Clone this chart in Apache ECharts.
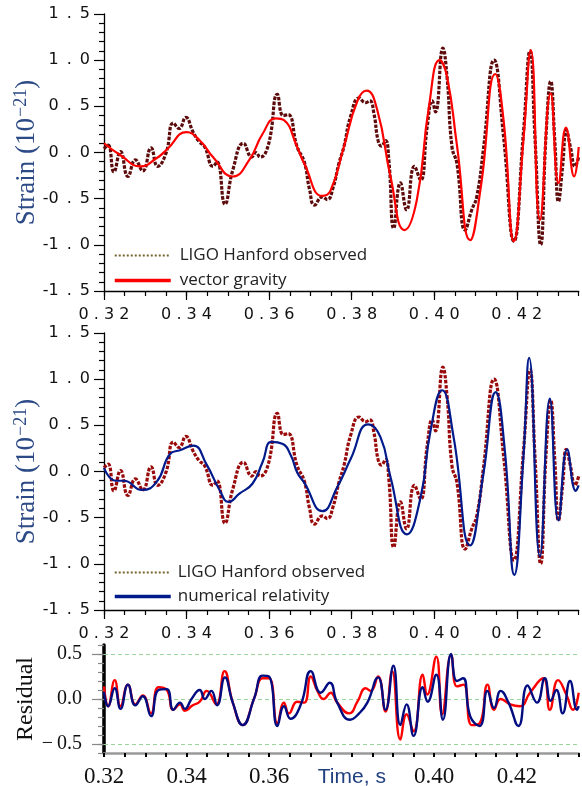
<!DOCTYPE html>
<html>
<head>
<meta charset="utf-8">
<script src="https://cdn.jsdelivr.net/npm/echarts@6/dist/echarts.min.js"></script>
<style>html,body{margin:0;padding:0;background:#fff;}#c{width:582px;height:786px;}</style>
</head>
<body>
<div id="c"></div>
<script>
// ---- data (time in s, strain in 1e-21) ----
const timeTicks = [0.32, 0.34, 0.36, 0.38, 0.40, 0.42];
const timeTicksBottom = [0.32, 0.34, 0.36, 0.40, 0.42];
const strainTicks = [-1.5, -1.0, -0.5, 0.0, 0.5, 1.0, 1.5];
const residualTicks = [-0.5, 0.0, 0.5];

const ligoObserved = [
  [0.3200,0.04],[0.3210,0.08],[0.3224,-0.21],[0.3240,0.01],[0.3258,-0.26],[0.3276,-0.08],
  [0.3294,-0.20],[0.3314,0.05],[0.3330,-0.15],[0.3350,-0.01],[0.3368,0.32],[0.3382,0.26],
  [0.3398,0.38],[0.3416,0.22],[0.3430,0.12],[0.3444,0.06],[0.3464,-0.15],[0.3474,-0.10],
  [0.3493,-0.56],[0.3512,-0.19],[0.3538,0.10],[0.3558,-0.05],[0.3568,0.00],[0.3578,-0.05],
  [0.3598,0.08],[0.3620,0.63],[0.3634,0.40],[0.3646,0.41],[0.3668,0.06],[0.3685,-0.10],
  [0.3698,-0.40],[0.3710,-0.57],[0.3729,-0.48],[0.3741,-0.51],[0.3755,-0.38],[0.3769,-0.12],
  [0.3781,0.06],[0.3798,0.40],[0.3818,0.59],[0.3834,0.54],[0.3844,0.56],[0.3854,0.42],
  [0.3864,0.13],[0.3872,0.07],[0.3882,0.13],[0.3890,-0.08],[0.3902,-0.82],[0.3918,-0.33],
  [0.3933,-0.62],[0.3952,-0.15],[0.3967,-0.30],[0.3983,0.28],[0.3995,0.56],[0.4003,0.44],
  [0.4021,1.13],[0.4031,0.82],[0.4043,0.06],[0.4055,-0.12],[0.4075,-0.84],[0.4091,-0.62],
  [0.4103,-0.48],[0.4119,0.03],[0.4145,1.00],[0.4168,0.17],[0.4193,-0.96],[0.4216,0.21],
  [0.4232,1.10],[0.4244,0.17],[0.4258,-1.00],[0.4271,0.20],[0.4282,0.77],[0.4292,0.13],
  [0.4301,-0.53],[0.4311,-0.15],[0.4320,0.24],[0.4330,0.06],[0.4341,-0.15],[0.4350,-0.05]
];
const vectorGravity = [
  [0.3200,0.10],[0.3240,-0.03],[0.3288,-0.15],[0.3328,-0.06],[0.3352,0.03],[0.3400,0.22],
  [0.3432,0.13],[0.3464,-0.05],[0.3512,-0.26],[0.3552,-0.08],[0.3584,0.20],[0.3616,0.37],
  [0.3636,0.35],[0.3668,0.06],[0.3685,-0.12],[0.3729,-0.47],[0.3749,-0.41],[0.3781,0.06],
  [0.3814,0.56],[0.3836,0.67],[0.3862,0.46],[0.3894,-0.26],[0.3928,-0.84],[0.3958,-0.51],
  [0.3987,0.49],[0.4013,1.00],[0.4031,0.82],[0.4055,0.08],[0.4087,-0.95],[0.4113,-0.37],
  [0.4148,0.85],[0.4168,0.35],[0.4193,-0.96],[0.4216,0.13],[0.4234,1.11],[0.4256,-0.73],
  [0.4282,0.64],[0.4301,-0.33],[0.4319,0.27],[0.4339,-0.26],[0.4350,0.06]
];
const numericalRelativity = [
  [0.3200,0.04],[0.3228,-0.10],[0.3248,-0.10],[0.3292,-0.20],[0.3328,-0.11],[0.3360,0.19],
  [0.3384,0.23],[0.3416,0.28],[0.3448,0.08],[0.3480,-0.20],[0.3502,-0.33],[0.3528,-0.24],
  [0.3560,-0.13],[0.3584,0.10],[0.3606,0.32],[0.3632,0.30],[0.3653,0.17],[0.3668,-0.01],
  [0.3685,-0.12],[0.3729,-0.43],[0.3765,-0.17],[0.3798,0.14],[0.3840,0.51],[0.3870,0.37],
  [0.3894,-0.06],[0.3934,-0.68],[0.3967,-0.28],[0.3991,0.44],[0.4019,0.88],[0.4047,0.37],
  [0.4087,-0.80],[0.4119,-0.03],[0.4149,0.86],[0.4171,0.23],[0.4194,-1.12],[0.4216,0.15],
  [0.4230,1.23],[0.4256,-0.92],[0.4280,0.79],[0.4301,-0.53],[0.4322,0.24],[0.4343,-0.21],
  [0.4350,-0.15]
];
const residualVectorGravity = [
  [0.3200,0.14],[0.3210,-0.08],[0.3226,0.21],[0.3240,-0.08],[0.3258,0.16],[0.3276,-0.06],
  [0.3294,0.04],[0.3314,-0.16],[0.3332,0.13],[0.3352,0.10],[0.3368,-0.12],[0.3384,-0.06],
  [0.3396,-0.13],[0.3415,-0.07],[0.3432,-0.03],[0.3449,0.09],[0.3472,-0.06],[0.3492,0.31],
  [0.3512,-0.04],[0.3536,-0.29],[0.3564,0.01],[0.3584,0.23],[0.3600,0.23],[0.3620,-0.27],
  [0.3636,-0.04],[0.3648,-0.16],[0.3668,-0.03],[0.3685,-0.04],[0.3701,0.25],[0.3717,0.09],
  [0.3732,0.00],[0.3749,0.07],[0.3765,-0.04],[0.3794,-0.16],[0.3814,-0.03],[0.3834,0.12],
  [0.3846,0.09],[0.3864,0.25],[0.3882,-0.14],[0.3898,0.31],[0.3918,-0.45],[0.3933,-0.17],
  [0.3950,-0.36],[0.3972,0.27],[0.3983,0.05],[0.4005,0.47],[0.4019,-0.17],[0.4041,0.49],
  [0.4055,0.14],[0.4071,0.16],[0.4091,-0.29],[0.4110,-0.27],[0.4129,0.16],[0.4145,-0.12],
  [0.4161,0.00],[0.4184,-0.06],[0.4208,-0.08],[0.4232,0.07],[0.4264,0.23],[0.4280,-0.12],
  [0.4300,0.21],[0.4320,0.05],[0.4336,-0.12],[0.4350,0.07]
];
const residualNumericalRelativity = [
  [0.3200,0.08],[0.3210,-0.08],[0.3226,0.12],[0.3240,-0.11],[0.3258,0.16],[0.3276,-0.07],
  [0.3294,0.03],[0.3314,-0.19],[0.3332,0.10],[0.3352,0.11],[0.3368,-0.12],[0.3384,-0.04],
  [0.3396,-0.11],[0.3412,0.00],[0.3432,0.10],[0.3444,0.00],[0.3460,0.09],[0.3474,-0.07],
  [0.3493,0.24],[0.3512,-0.04],[0.3536,-0.29],[0.3564,0.01],[0.3584,0.26],[0.3600,0.25],
  [0.3620,-0.30],[0.3636,-0.08],[0.3652,-0.22],[0.3677,-0.06],[0.3701,0.31],[0.3725,0.07],
  [0.3747,0.18],[0.3765,-0.04],[0.3796,-0.23],[0.3818,-0.16],[0.3838,-0.04],[0.3864,0.24],
  [0.3882,-0.12],[0.3901,0.37],[0.3918,-0.29],[0.3933,-0.06],[0.3950,-0.41],[0.3972,0.13],
  [0.3984,-0.03],[0.4005,0.27],[0.4021,-0.23],[0.4041,0.50],[0.4055,0.20],[0.4070,0.23],
  [0.4087,-0.19],[0.4110,-0.30],[0.4129,0.09],[0.4145,-0.10],[0.4161,0.09],[0.4180,-0.04],
  [0.4204,-0.30],[0.4226,0.15],[0.4249,-0.04],[0.4268,0.23],[0.4282,-0.02],[0.4296,0.10],
  [0.4311,-0.16],[0.4329,0.20],[0.4346,-0.12],[0.4350,-0.08]
];

// ---- helpers ----
function spaced(s, gap) {
  const neg = s[0] === '-';
  const body = neg ? s.slice(1) : s;
  return (neg ? '-' : '') + body.split('').join(gap);
}
const X_MIN = 0.32, X_MAX = 0.435;
const tickFont = 'DejaVu Sans';
const sans = 'Liberation Sans';
const serif = 'Liberation Serif';

function strainXAxes(g) {
  return [
    { gridIndex: g, type: 'value', position: 'bottom', min: X_MIN, max: X_MAX, interval: 0.005,
      axisLine: { show: true, onZero: false, lineStyle: { color: '#000', width: 1.3 } },
      axisTick: { show: true, length: 5, lineStyle: { color: '#000', width: 1.2 } },
      splitLine: { show: false },
      axisLabel: { show: true, customValues: timeTicks, margin: 16, fontFamily: tickFont, fontSize: 16, color: '#111',
        formatter: v => spaced(v.toFixed(2), ' ') } },
    { gridIndex: g, type: 'value', position: 'bottom', min: X_MIN, max: X_MAX, interval: 0.02,
      axisLine: { show: false, onZero: false },
      axisTick: { show: true, customValues: timeTicks, length: 9, lineStyle: { color: '#000', width: 1.2 } },
      splitLine: { show: false }, axisLabel: { show: false } }
  ];
}
function strainYAxis(g) {
  return { gridIndex: g, type: 'value', position: 'left', min: -1.5, max: 1.5, interval: 0.5,
    name: 'Strain (10{sup|\u221221})', nameLocation: 'middle', nameGap: 62, nameRotate: 90, nameMoveOverlap: false,
    nameTextStyle: { fontFamily: serif, fontSize: 27, color: '#2c4a85',
      rich: { sup: { fontFamily: serif, fontSize: 18, color: '#2c4a85', padding: [0, 0, 12, 1] } } },
    axisLine: { show: true, onZero: false, lineStyle: { color: '#000', width: 1.3 } },
    axisTick: { show: true, length: 10, lineStyle: { color: '#000', width: 1.2 } },
    minorTick: { show: true, splitNumber: 5, length: 5, lineStyle: { color: '#000', width: 1.2 } },
    splitLine: { show: false }, minorSplitLine: { show: false },
    axisLabel: { margin: 14, fontFamily: tickFont, fontSize: 16, color: '#111',
      formatter: v => spaced(v.toFixed(1), '\u2002') } };
}
const hiddenSymbol = { color: 'rgba(0,0,0,0)', opacity: 0, borderWidth: 0 };

const option = {
  animation: false,
  backgroundColor: '#fff',
  grid: [
    { left: 104, right: 3.3, top: 14, height: 277, outerBoundsMode: 'none', containLabel: false },
    { left: 104, right: 3.3, top: 333, height: 277, outerBoundsMode: 'none', containLabel: false },
    { left: 104, right: 3.3, top: 645, height: 108, outerBoundsMode: 'none', containLabel: false }
  ],
  legend: [
    { orient: 'vertical', left: 108, top: 242, itemWidth: 56, itemHeight: 14, itemGap: 8, selectedMode: false,
      textStyle: { fontFamily: 'Open Sans', fontSize: 17, color: '#222', padding: [0, 0, 0, 4] },
      data: [
        { name: 'LIGO Hanford observed', itemStyle: hiddenSymbol, lineStyle: { color: '#75622f', width: 2, type: [2, 2] } },
        { name: 'vector gravity', itemStyle: hiddenSymbol, lineStyle: { color: '#ff0000', width: 3.5, type: 'solid' } }
      ] },
    { orient: 'vertical', left: 108, top: 559, itemWidth: 56, itemHeight: 14, itemGap: 7, selectedMode: false,
      textStyle: { fontFamily: 'Open Sans', fontSize: 17, color: '#222', padding: [0, 0, 0, 2] },
      data: [
        { name: 'LIGO Hanford observed', itemStyle: hiddenSymbol, lineStyle: { color: '#75622f', width: 2, type: [2, 2] } },
        { name: 'numerical relativity', itemStyle: hiddenSymbol, lineStyle: { color: '#001a8c', width: 3.5, type: 'solid' } }
      ] }
  ],
  xAxis: [
    ...strainXAxes(0),
    ...strainXAxes(1),
    { gridIndex: 2, type: 'value', position: 'bottom', min: X_MIN, max: X_MAX, interval: 0.005,
      name: 'Time, s', nameLocation: 'middle', nameGap: 14, nameMoveOverlap: false,
      nameTextStyle: { fontFamily: sans, fontSize: 21, color: '#1f3f7f', padding: [0, 0, 0, 21] },
      axisLine: { show: true, onZero: false, lineStyle: { color: '#9a9a9a', width: 2.5 } },
      axisTick: { show: true, length: 4, lineStyle: { color: '#000', width: 2 } },
      splitLine: { show: false },
      axisLabel: { customValues: timeTicksBottom, margin: 12, fontFamily: serif, fontSize: 23, color: '#111',
        formatter: v => v.toFixed(2) } }
  ],
  yAxis: [
    strainYAxis(0),
    strainYAxis(1),
    { gridIndex: 2, type: 'value', position: 'left', min: -0.6, max: 0.6, interval: 0.1,
      name: 'Residual', nameLocation: 'middle', nameGap: 66, nameRotate: 90, nameMoveOverlap: false,
      nameTextStyle: { fontFamily: serif, fontSize: 24, color: '#111' },
      axisLine: { show: true, onZero: false, lineStyle: { color: '#000', width: 3.5 } },
      axisTick: { show: true, length: 6, lineStyle: { color: '#888', width: 1.2 } },
      splitLine: { show: false },
      axisLabel: { customValues: residualTicks, margin: 22, fontFamily: serif, fontSize: 20, color: '#111',
        formatter: v => (v < 0 ? '\u2212\u2009' : '') + Math.abs(v).toFixed(1) } },
    { gridIndex: 2, type: 'value', position: 'left', min: -0.6, max: 0.6, interval: 0.5,
      axisLine: { show: false, onZero: false },
      axisTick: { show: true, customValues: residualTicks, length: 12, lineStyle: { color: '#888', width: 1.2 } },
      splitLine: { show: false }, axisLabel: { show: false } }
  ],
  series: [
    { name: 'LIGO Hanford observed', type: 'line', xAxisIndex: 0, yAxisIndex: 0, data: ligoObserved,
      smooth: 0.5, symbol: 'none', itemStyle: { color: '#5c0a0a' },
      lineStyle: { color: '#5c0a0a', width: 3.2, type: [3.5, 1.5] }, z: 2 },
    { name: 'vector gravity', type: 'line', xAxisIndex: 0, yAxisIndex: 0, data: vectorGravity,
      smooth: 0.5, symbol: 'none', itemStyle: { color: '#ff0000' }, lineStyle: { color: '#ff0000', width: 2.2 }, z: 3 },
    { name: 'LIGO Hanford observed', type: 'line', xAxisIndex: 2, yAxisIndex: 1, data: ligoObserved,
      smooth: 0.5, symbol: 'none', itemStyle: { color: '#990a0a' },
      lineStyle: { color: '#990a0a', width: 3.2, type: [3.5, 1.5] }, z: 2 },
    { name: 'numerical relativity', type: 'line', xAxisIndex: 2, yAxisIndex: 1, data: numericalRelativity,
      smooth: 0.5, symbol: 'none', itemStyle: { color: '#001a8c' }, lineStyle: { color: '#001a8c', width: 2.2 }, z: 3 },
    { name: 'vector gravity residual', type: 'line', xAxisIndex: 4, yAxisIndex: 2, data: residualVectorGravity,
      smooth: 0.5, symbol: 'none', itemStyle: { color: '#ff0000' }, lineStyle: { color: '#ff0000', width: 2.4 }, z: 3,
      markLine: { silent: true, symbol: ['none', 'none'], label: { show: false }, z: 1,
        lineStyle: { color: '#9ad69a', type: [4, 3], width: 1 },
        data: residualTicks.map(v => ({ yAxis: v })) } },
    { name: 'numerical relativity residual', type: 'line', xAxisIndex: 4, yAxisIndex: 2, data: residualNumericalRelativity,
      smooth: 0.5, symbol: 'none', itemStyle: { color: '#000c80' }, lineStyle: { color: '#000c80', width: 2.4 }, z: 4 }
  ]
};
const chart = echarts.init(document.getElementById('c'), null, { renderer: 'canvas' });
chart.setOption(option);
</script>
</body>
</html>
